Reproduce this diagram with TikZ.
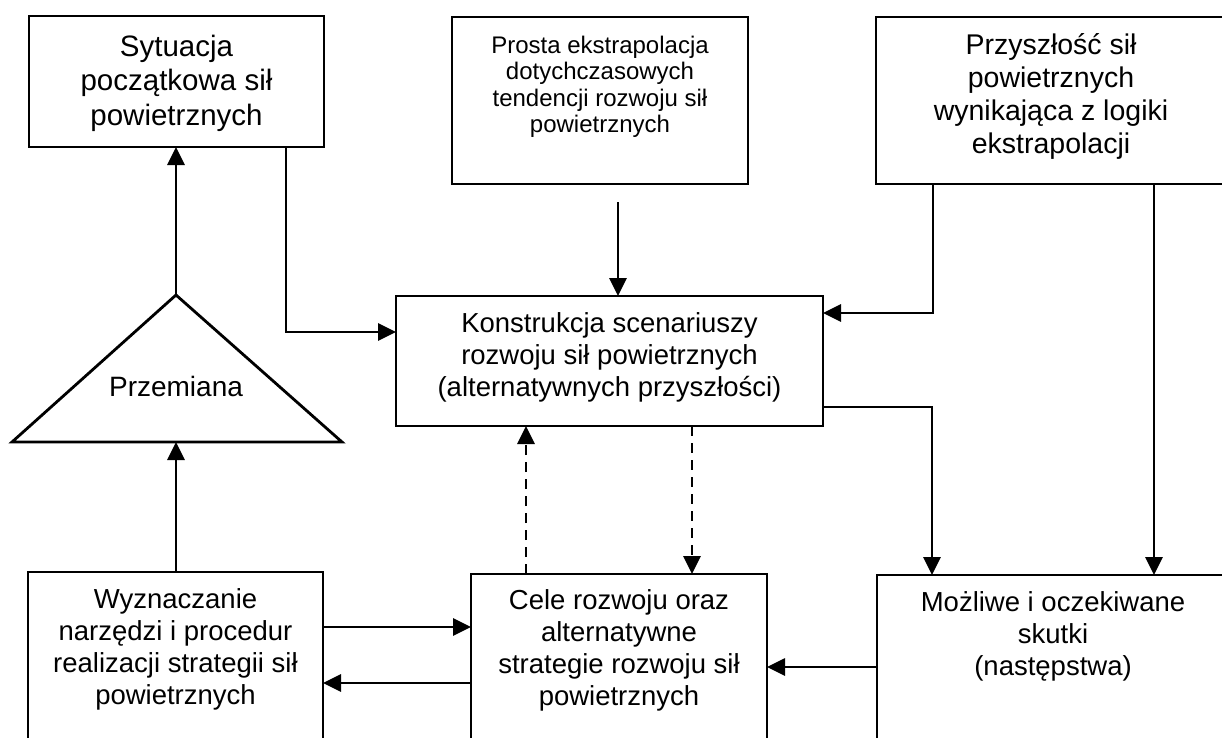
\documentclass[tikz,border=0pt]{standalone}
\usepackage{fontspec}
\setmainfont{Liberation Sans}
\usetikzlibrary{arrows.meta,calc}

\tikzset{
  box/.style={draw, line width=2.8pt, rectangle, inner sep=0pt, outer sep=0pt},
  txt/.style={align=center, inner sep=0pt, font=\fontsize{27.5}{32}\selectfont},
  arr/.style={line width=2.8pt, -{Triangle[length=18pt,width=17pt]}},
  dashline/.style={dash pattern=on 10pt off 7pt},
}

\begin{document}
\begin{tikzpicture}[x=1pt,y=-1pt]
\useasboundingbox (0,0) rectangle (1222,737);
\clip (0,0) rectangle (1222,737);
\fill[white] (0,0) rectangle (1222,737);

% frames of the boxes
\node[box, minimum width=295pt, minimum height=131pt] (A) at (176.5,81.5) {};
\node[box, minimum width=296pt, minimum height=167pt] (B) at (600,100.5) {};
\node[box, minimum width=350pt, minimum height=167pt] (C) at (1051,100.5) {};
\node[box, minimum width=427pt, minimum height=130pt] (D) at (609.5,361) {};
\node[box, minimum width=295pt, minimum height=188pt] (E) at (175.5,666) {};
\node[box, minimum width=296pt, minimum height=186pt] (F) at (619,667) {};
\node[box, minimum width=352pt, minimum height=185pt] (G) at (1053,667.5) {};

% texts
\node[txt, font=\fontsize{29.5}{34.5}\selectfont] (At) at (176.5,83) {Sytuacja\\początkowa sił\\powietrznych};
\node[txt, font=\fontsize{24}{26.5}\selectfont] (Bt) at (600,87) {Prosta ekstrapolacja\\dotychczasowych\\tendencji rozwoju sił\\powietrznych};
\node[txt, font=\fontsize{28.5}{33}\selectfont] (Ct) at (1051,96) {Przyszłość sił\\powietrznych\\wynikająca z logiki\\ekstrapolacji};
\node[txt] (Dt) at (609.5,357) {Konstrukcja scenariuszy\\rozwoju sił powietrznych\\(alternatywnych przyszłości)};
\node[txt] (Et) at (175.5,649) {Wyznaczanie\\narzędzi i procedur\\realizacji strategii sił\\powietrznych};
\node[txt] (Ft) at (619,650) {Cele rozwoju oraz\\alternatywne\\strategie rozwoju sił\\powietrznych};
\node[txt] (Gt) at (1053,636) {Możliwe i oczekiwane\\skutki\\(następstwa)};

% the triangle
\coordinate (triTop) at (176,295);
\coordinate (triL) at (12,442);
\coordinate (triR) at (342,442);
\coordinate (triBase) at (176,442);
\draw[line width=2.8pt, line join=miter] (triTop) -- (triL) -- (triR) -- cycle;
\node[txt, font=\fontsize{28}{32}\selectfont] (Pt) at (176,386) {Przemiana};

% connector joints
\coordinate (jA) at (286,332);
\coordinate (bOut) at (618,202);
\coordinate (jC) at (933,313);
\coordinate (cG) at (1154,400);
\coordinate (jD) at (932,407);
\coordinate (dUp) at (526,500);
\coordinate (dDn) at (692,500);
\coordinate (hEF) at (400,627);
\coordinate (hFE) at (400,683);
\coordinate (hGF) at (800,667);

% connectors
\draw[arr] (triTop) -- (A.south -| triTop);
\draw[arr] (A.south -| jA) |- (D.west |- jA);
\draw[arr] (bOut) -- (D.north -| bOut);
\draw[arr] (C.south -| jC) |- (D.east |- jC);
\draw[arr] (C.south -| cG) -- (G.north -| cG);
\draw[arr] (D.east |- jD) -| (G.north -| jD);
\draw[arr, dashline] (F.north -| dUp) -- (D.south -| dUp);
\draw[arr, dashline] (D.south -| dDn) -- (F.north -| dDn);
\draw[arr] (E.east |- hEF) -- (F.west |- hEF);
\draw[arr] (F.west |- hFE) -- (E.east |- hFE);
\draw[arr] (G.west |- hGF) -- (F.east |- hGF);
\draw[arr] (E.north -| triTop) -- (triBase);
\end{tikzpicture}
\end{document}
